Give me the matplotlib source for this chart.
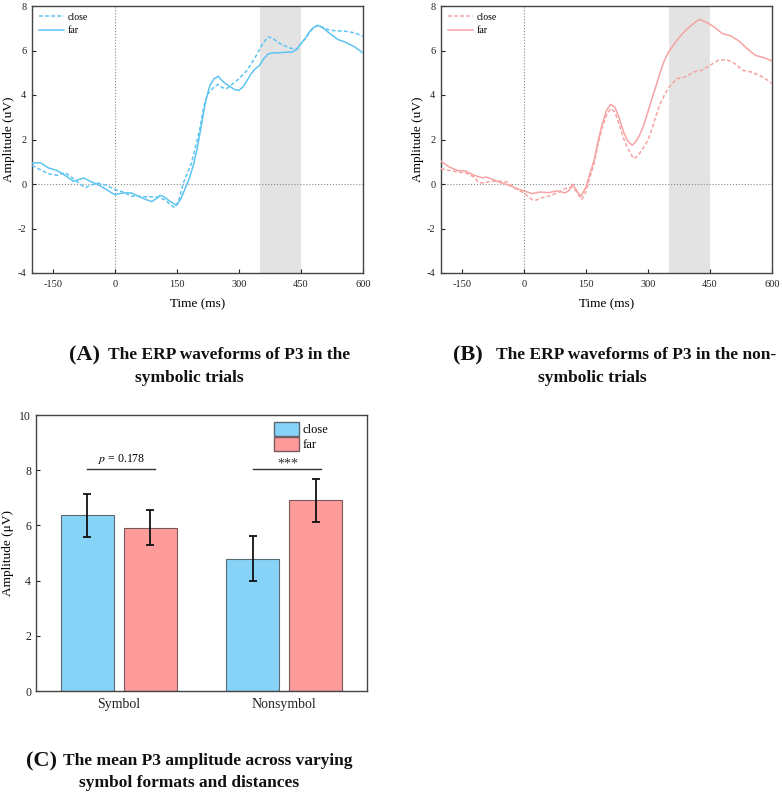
import numpy as np
import matplotlib.pyplot as plt
from matplotlib.patches import Patch

plt.rcParams['font.family'] = ['Liberation Serif', 'DejaVu Serif']
plt.rcParams['axes.unicode_minus'] = False

# ---- panel A: symbolic trials
tA_close = [-200, -180, -160, -140, -120, -100, -80, -70, -60, -40, -20, 0, 20, 40, 60, 80, 100, 120, 140, 145,
            155, 165, 175, 185, 195, 205, 215, 225, 240, 250, 260, 270, 280, 300, 320, 340, 355, 370, 380, 400,
            420, 440, 450, 460, 475, 490, 500, 520, 540, 560, 580, 600]
yA_close = [0.84, 0.64, 0.46, 0.39, 0.51, 0.24, -0.06, -0.16, -0.06, 0.04, -0.06, -0.25, -0.36, -0.55, -0.55,
            -0.58, -0.58, -0.70, -1.00, -1.06, -0.73, 0.01, 0.46, 0.91, 1.66, 2.41, 3.46, 4.06, 4.36, 4.48, 4.33,
            4.28, 4.43, 4.73, 5.11, 5.71, 6.23, 6.61, 6.56, 6.31, 6.13, 6.04, 6.31, 6.53, 6.91, 7.13, 7.06, 6.91,
            6.88, 6.86, 6.79, 6.64]
tA_far = [-200, -180, -160, -140, -120, -100, -75, -60, -40, -20, 0, 20, 40, 60, 80, 90, 100, 110, 120, 130, 145,
          150, 160, 170, 180, 190, 200, 210, 220, 230, 240, 250, 260, 270, 280, 290, 300, 310, 320, 330, 340, 350,
          360, 370, 380, 400, 420, 430, 440, 450, 460, 470, 480, 490, 500, 520, 540, 560, 580, 600]
yA_far = [0.94, 0.96, 0.72, 0.61, 0.39, 0.12, 0.27, 0.13, -0.03, -0.25, -0.48, -0.40, -0.40, -0.58, -0.73, -0.79,
          -0.66, -0.51, -0.58, -0.73, -0.91, -0.95, -0.66, -0.21, 0.24, 0.84, 1.66, 2.71, 3.76, 4.43, 4.73, 4.84,
          4.63, 4.48, 4.36, 4.24, 4.21, 4.36, 4.66, 4.96, 5.18, 5.33, 5.63, 5.83, 5.89, 5.90, 5.93, 5.93, 6.08,
          6.31, 6.53, 6.83, 7.03, 7.13, 7.06, 6.76, 6.49, 6.35, 6.16, 5.89]

# ---- panel B: non-symbolic trials
tB_close = [-200, -180, -160, -140, -120, -110, -100, -80, -60, -40, -20, 0, 20, 30, 40, 60, 80, 100, 115, 125,
            140, 150, 160, 170, 180, 190, 200, 210, 220, 230, 240, 250, 265, 275, 290, 300, 310, 320, 330, 340,
            350, 370, 390, 410, 430, 450, 470, 490, 510, 530, 550, 570, 590, 600]
yB_close = [0.69, 0.61, 0.54, 0.49, 0.31, 0.09, 0.04, 0.12, 0.13, 0.09, -0.21, -0.40, -0.70, -0.73, -0.63, -0.55,
            -0.40, -0.21, -0.13, -0.28, -0.69, -0.36, 0.31, 0.91, 1.81, 2.56, 3.09, 3.39, 3.24, 2.71, 2.11, 1.66,
            1.14, 1.24, 1.66, 1.96, 2.49, 3.09, 3.61, 3.99, 4.33, 4.73, 4.81, 5.03, 5.11, 5.33, 5.56, 5.59, 5.41,
            5.11, 5.03, 4.88, 4.66, 4.51]
tB_far = [-200, -180, -160, -140, -120, -100, -90, -80, -60, -40, -20, 0, 20, 40, 60, 80, 100, 110, 118, 130, 138,
          150, 160, 170, 180, 190, 200, 210, 220, 230, 240, 250, 262, 270, 280, 290, 300, 310, 320, 330, 340, 350,
          370, 390, 410, 425, 440, 460, 480, 500, 520, 540, 560, 580, 600]
yB_far = [1.03, 0.76, 0.61, 0.58, 0.39, 0.28, 0.31, 0.24, 0.09, -0.03, -0.18, -0.31, -0.43, -0.36, -0.39, -0.31,
          -0.40, -0.28, -0.01, -0.36, -0.55, -0.16, 0.46, 1.06, 1.96, 2.71, 3.31, 3.58, 3.46, 3.01, 2.41, 1.96,
          1.74, 1.89, 2.19, 2.64, 3.24, 3.84, 4.43, 5.03, 5.56, 5.93, 6.46, 6.88, 7.21, 7.40, 7.28, 7.06, 6.76,
          6.66, 6.43, 6.08, 5.78, 5.68, 5.53]

# ---- panel C: mean P3 amplitude
formats = ['Symbol', 'Nonsymbol']
close_mean = [6.37, 4.80]
close_err = [0.78, 0.83]
far_mean = [5.92, 6.91]
far_err = [0.62, 0.78]

blue = '#5ec4f2'
pink = '#f6a3a3'
W, H = 782, 794


def fx(x):
    return x / W


def fy(y):
    return 1 - y / H


def erp_axes(rect, tc, yc, tf, yf, color):
    ax = fig.add_axes(rect)
    ax.axvspan(350, 450, color='#e3e3e3', lw=0, zorder=0)
    ax.axvline(0, color='#888888', ls=':', lw=0.8, zorder=1)
    ax.axhline(0, color='#888888', ls=':', lw=0.8, zorder=1)
    ax.plot(tc, yc, color=color, ls=(0, (2.5, 1.5)), lw=1.1, label='close', zorder=3)
    ax.plot(tf, yf, color=color, ls='-', lw=1.1, label='far', zorder=3)
    ax.set_xlim(-200, 600)
    ax.set_ylim(-4, 8)
    ax.set_xticks([-150, 0, 150, 300, 450, 600])
    ax.set_yticks([-4, -2, 0, 2, 4, 6, 8])
    ax.tick_params(direction='in', length=3, width=0.8, labelsize=7.5, colors='#222222', pad=4)
    ax.tick_params(axis='x', pad=5)
    for s in ax.spines.values():
        s.set_color('#444444')
        s.set_linewidth(1.0)
    ax.set_xlabel('Time (ms)', fontsize=9.5, labelpad=7)
    ax.set_ylabel('Amplitude (uV)', fontsize=9.5, labelpad=2)
    ax.legend(loc='upper left', frameon=False, fontsize=7, handlelength=2.6, handletextpad=0.35,
              labelspacing=0.45, borderaxespad=0.3)
    return ax


fig = plt.figure(figsize=(W / 100, H / 100), dpi=100)

erp_axes([fx(32), fy(273), fx(331), 267 / H], tA_close, yA_close, tA_far, yA_far, blue)
erp_axes([fx(441), fy(273), fx(331), 267 / H], tB_close, yB_close, tB_far, yB_far, pink)

# bar chart
axc = fig.add_axes([fx(36), fy(691), fx(331), 276 / H])
x = np.arange(len(formats))
bw = 0.32
off = 0.19
axc.bar(x - off, close_mean, bw, yerr=close_err, color='#87d3f8', edgecolor='#5a6a72', lw=0.8,
        error_kw=dict(ecolor='#111111', elinewidth=1.3, capsize=3, capthick=1.3))
axc.bar(x + off, far_mean, bw, yerr=far_err, color='#fe9c9c', edgecolor='#7a5a5a', lw=0.8,
        error_kw=dict(ecolor='#111111', elinewidth=1.3, capsize=3, capthick=1.3))
axc.set_xlim(-0.5, 1.5)
axc.set_ylim(0, 10)
axc.set_xticks(x)
axc.set_xticklabels(formats)
axc.set_yticks([0, 2, 4, 6, 8, 10])
axc.tick_params(axis='y', direction='in', length=3, width=0.8, labelsize=8.5, colors='#222222')
axc.tick_params(axis='x', length=0, labelsize=10, pad=5, colors='#222222')
for s in axc.spines.values():
    s.set_color('#444444')
    s.set_linewidth(1.0)
axc.set_ylabel('Amplitude (\u03bcV)', fontsize=9.5, labelpad=4)

# significance markers
axc.plot([x[0] - off, x[0] + off + 0.03], [8.05, 8.05], color='#333333', lw=1.0)
axc.text(x[0] + 0.02, 8.15, r'$p$ = 0.178', ha='center', va='bottom', fontsize=8.5,
         math_fontfamily='stix')
axc.plot([x[1] - off, x[1] + off + 0.03], [8.05, 8.05], color='#333333', lw=1.0)
axc.text(x[1] + 0.02, 7.98, '***', ha='center', va='bottom', fontsize=10, color='#333333')

axc.legend(handles=[Patch(facecolor='#87d3f8', edgecolor='#5a6a72', label='close'),
                    Patch(facecolor='#fe9c9c', edgecolor='#7a5a5a', label='far')],
           loc='upper right', bbox_to_anchor=(0.905, 1.0), frameon=False, fontsize=9,
           handlelength=2.0, handleheight=1.3, handletextpad=0.3, labelspacing=0.1, borderaxespad=0.15)

# captions
cap = dict(fontweight='bold', va='center', ha='left', color='#111111')
fig.text(fx(69), fy(355), '(A)', fontsize=16, **cap)
fig.text(fx(108), fy(355), 'The ERP waveforms of P3 in the', fontsize=12.5, **cap)
fig.text(fx(135), fy(378), 'symbolic trials', fontsize=12.5, **cap)

fig.text(fx(453), fy(355), '(B)', fontsize=16, **cap)
fig.text(fx(496), fy(355), 'The ERP waveforms of P3 in the non-', fontsize=12.5, **cap)
fig.text(fx(538), fy(378), 'symbolic trials', fontsize=12.5, **cap)

fig.text(fx(26), fy(761), '(C)', fontsize=16, **cap)
fig.text(fx(63), fy(761), 'The mean P3 amplitude across varying', fontsize=12.5, **cap)
fig.text(fx(79), fy(783), 'symbol formats and distances', fontsize=12.5, **cap)

fig.savefig('out.png', dpi=100)
